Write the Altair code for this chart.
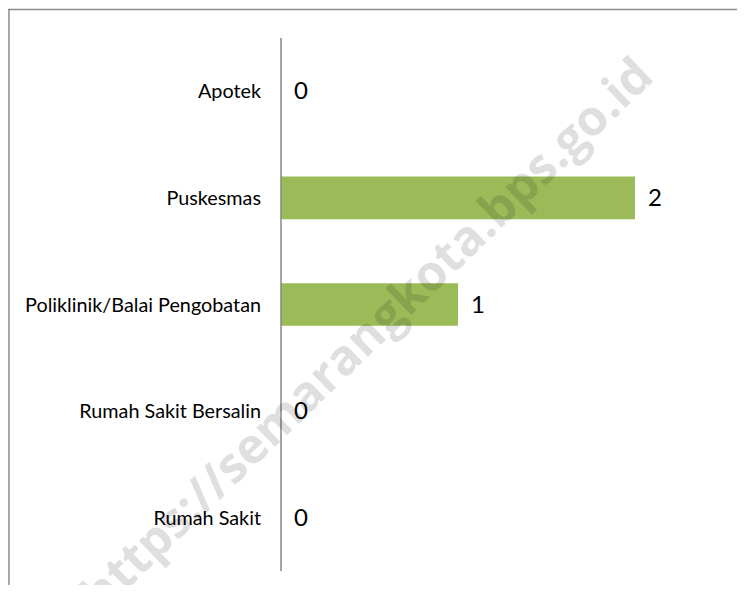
import altair as alt
import pandas as pd

categories = ["Apotek", "Puskesmas", "Poliklinik/Balai Pengobatan", "Rumah Sakit Bersalin", "Rumah Sakit"]
values = [0, 2, 1, 0, 0]
watermark = "https://semarangkota.bps.go.id"

df = pd.DataFrame({"cat": categories, "val": values})

W, H = 729, 576
xs = alt.Scale(domain=[0, 2], range=[273, 627])
ys = alt.Scale(domain=categories, range=[29, 562], paddingInner=0.6, paddingOuter=0.3)

base = alt.Chart(df)

frame_left = alt.Chart(df.head(1)).mark_rule(color="#8c8c8c", strokeWidth=1.5).encode(
    x=alt.value(1), y=alt.value(0), y2=alt.value(H))
frame_top = alt.Chart(df.head(1)).mark_rule(color="#8c8c8c", strokeWidth=1.5).encode(
    x=alt.value(0), x2=alt.value(W), y=alt.value(0.5))

bars = base.mark_bar(color="#9BBB59").encode(
    x=alt.X("val:Q", scale=xs, axis=None),
    y=alt.Y("cat:N", scale=ys, sort=categories, axis=None),
)

axis_line = alt.Chart(df.head(1)).mark_rule(color="#868686", strokeWidth=1.5).encode(
    x=alt.X(datum=0, scale=xs), y=alt.value(29), y2=alt.value(562))

vlabels = base.mark_text(align="left", baseline="middle", dx=13, dy=1, fontSize=24,
                         font="Lato", color="black").encode(
    x=alt.X("val:Q", scale=xs), y=alt.Y("cat:N", scale=ys, sort=categories), text="val:Q")

clabels = base.mark_text(align="right", baseline="middle", dx=-20, dy=1, fontSize=19.8,
                         font="Lato", color="black").encode(
    x=alt.X(datum=0, scale=xs), y=alt.Y("cat:N", scale=ys, sort=categories), text="cat:N")

wm = alt.Chart(pd.DataFrame({"t": [watermark]})).mark_text(
    align="center", baseline="middle", angle=316, fontSize=49, fontWeight="bold",
    font="Open Sans", color="black", opacity=0.12).encode(
    x=alt.value(360), y=alt.value(327), text="t:N")

chart = alt.layer(frame_left, frame_top, bars, axis_line, vlabels, clabels, wm).properties(
    width=W, height=H,
    autosize=alt.AutoSizeParams(type="none"),
    padding={"left": 0, "top": 1, "right": 0, "bottom": 0},
).configure_view(stroke=None)

chart.save("out.html", embed_options={"renderer": "svg", "actions": False})
